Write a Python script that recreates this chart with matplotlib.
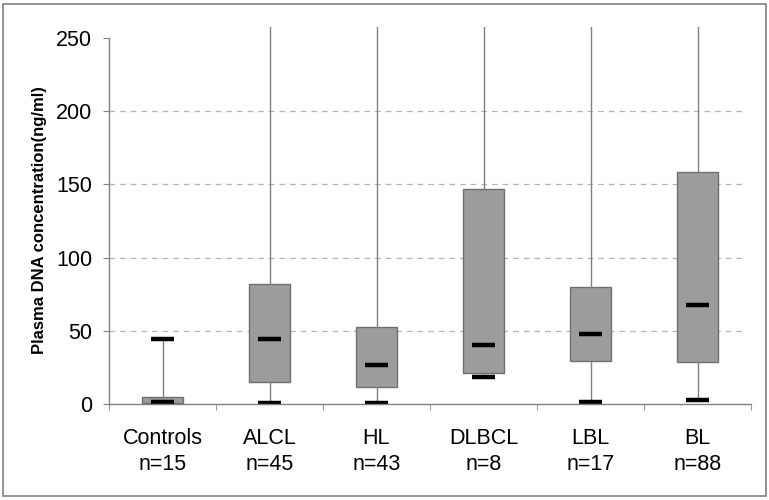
import matplotlib
matplotlib.use("Agg")
import matplotlib.pyplot as plt
from matplotlib.patches import Rectangle

plt.rcParams['font.family'] = ['Liberation Sans', 'DejaVu Sans']

# 组别与样本数
groups = ["Controls", "ALCL", "HL", "DLBCL", "LBL", "BL"]
counts = [15, 45, 43, 8, 17, 88]

# 箱线图统计量（ng/ml），上须超出 250 的部分被截断
q1 = [1.0, 14.8, 11.4, 21.0, 29.2, 28.5]
med = [1.5, 44.6, 26.6, 40.3, 47.6, 67.6]
q3 = [4.5, 81.8, 52.4, 146.6, 79.7, 158.2]
lo = [0.0, 0.5, 0.5, 18.4, 1.6, 2.7]
hi = [44.6, 262, 262, 262, 262, 262]

stats = []
for i, g in enumerate(groups):
    stats.append({"label": g, "med": med[i], "q1": q1[i], "q3": q3[i],
                  "whislo": lo[i], "whishi": hi[i], "fliers": []})

fig = plt.figure(figsize=(7.69, 5.0), dpi=100)
ax = fig.add_axes([109 / 769, 1 - 404 / 500, 642 / 769, 377 / 500])

mark_w = 0.21
res = ax.bxp(stats, positions=range(len(groups)), widths=0.385, capwidths=mark_w,
             patch_artist=True, showfliers=False,
             boxprops=dict(facecolor="#9c9c9c", edgecolor="#707070", linewidth=1.0),
             medianprops=dict(color="black", linewidth=3.2, solid_capstyle="butt"),
             whiskerprops=dict(color="#808080", linewidth=1.0),
             capprops=dict(color="black", linewidth=3.2, solid_capstyle="butt"))

# 中位数短横线，宽度与端点横线一致
for i, line in enumerate(res["medians"]):
    line.set_xdata([i - mark_w / 2, i + mark_w / 2])

# 刻度与坐标轴
ax.set_xlim(-0.5, len(groups) - 0.5)
ax.set_ylim(0, 257.5)
ax.set_yticks([0, 50, 100, 150, 200, 250])
ax.set_xticks(range(len(groups)))
ax.set_xticklabels([f"{g}\nn={n}" for g, n in zip(groups, counts)], fontsize=15.5,
                   linespacing=1.35)
ax.set_xticks([i + 0.5 for i in range(-1, len(groups))], minor=True)
ax.tick_params(axis="x", which="major", length=0, pad=17)
ax.tick_params(axis="x", which="minor", length=4, color="#808080", direction="out")
ax.tick_params(axis="y", length=4, color="#808080", pad=8, labelsize=15.5)

for s in ["top", "right"]:
    ax.spines[s].set_visible(False)
for s in ["left", "bottom"]:
    ax.spines[s].set_color("#808080")
    ax.spines[s].set_linewidth(1.0)
ax.spines["left"].set_bounds(0, 250)

# 虚线网格
for yv in [50, 100, 150, 200]:
    ax.plot([-0.5, 5.42], [yv, yv], color="#b4b4b4", linewidth=0.9,
            linestyle=(0, (4.5, 4)), zorder=0)

ax.set_ylabel("Plasma DNA concentration(ng/ml)", fontsize=12, fontweight="bold")
ax.yaxis.set_label_coords(-0.097, 0.488)

# 外框
fig.patches.append(Rectangle((3 / 769, 4 / 500), 763 / 769, 492 / 500,
                             transform=fig.transFigure, fill=False,
                             edgecolor="#808080", linewidth=1.2))

fig.savefig("out.png", dpi=100)
